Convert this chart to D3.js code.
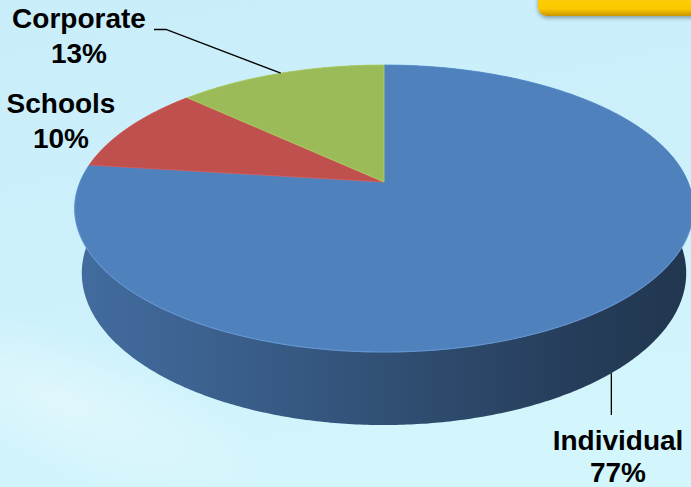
<!DOCTYPE html>
<html>
<head>
<meta charset="utf-8">
<script src="https://cdn.jsdelivr.net/npm/d3@7/dist/d3.min.js"></script>
<style>
  html, body { margin: 0; padding: 0; background: #ccf0fb; }
  svg { display: block; }
  text { font-family: "Liberation Sans", Arial, sans-serif; font-weight: bold; fill: #000; }
</style>
</head>
<body>
<svg id="chart" width="691" height="487"></svg>
<script>
// Customer segments and their share of the total (percent)
const categories = ["Individual", "Schools", "Corporate"];
const shares = [77, 10, 13];

// Office-style slice colours
const palette = ["#4f81bd", "#c0504d", "#9bbb59"];

const W = 691, H = 487;
const svg = d3.select("#chart");
const defs = svg.append("defs");

// ---- background ----
const bg = defs.append("linearGradient").attr("id", "bg")
  .attr("x1", 0).attr("y1", 0).attr("x2", 0.3).attr("y2", 1);
bg.append("stop").attr("offset", "0%").attr("stop-color", "#c9eefa");
bg.append("stop").attr("offset", "60%").attr("stop-color", "#ccf1fb");
bg.append("stop").attr("offset", "100%").attr("stop-color", "#d3f5fc");
svg.append("rect").attr("width", W).attr("height", H).attr("fill", "url(#bg)");

const glow = defs.append("radialGradient").attr("id", "glow")
  .attr("cx", 0.5).attr("cy", 0.5).attr("r", 0.5);
glow.append("stop").attr("offset", "0%").attr("stop-color", "#ffffff").attr("stop-opacity", 0.35);
glow.append("stop").attr("offset", "100%").attr("stop-color", "#ffffff").attr("stop-opacity", 0);
svg.append("ellipse").attr("cx", 60).attr("cy", 400).attr("rx", 220).attr("ry", 70)
  .attr("transform", "rotate(20 60 400)").attr("fill", "url(#glow)");

// ---- yellow tab in the top-right corner ----
const tabG = defs.append("linearGradient").attr("id", "tab").attr("x1", 0).attr("y1", 0).attr("x2", 0).attr("y2", 1);
tabG.append("stop").attr("offset", "0%").attr("stop-color", "#ffd51a");
tabG.append("stop").attr("offset", "80%").attr("stop-color", "#fcc800");
tabG.append("stop").attr("offset", "100%").attr("stop-color", "#c99500");
const shadow = defs.append("filter").attr("id", "tabShadow").attr("x", -0.2).attr("y", -0.5).attr("width", 1.4).attr("height", 2);
shadow.append("feGaussianBlur").attr("in", "SourceAlpha").attr("stdDeviation", 2).attr("result", "b");
shadow.append("feOffset").attr("in", "b").attr("dy", 2).attr("result", "o");
shadow.append("feComponentTransfer").attr("in", "o").attr("result", "s")
  .append("feFuncA").attr("type", "linear").attr("slope", 0.35);
const fm = shadow.append("feMerge");
fm.append("feMergeNode").attr("in", "s");
fm.append("feMergeNode").attr("in", "SourceGraphic");
svg.append("rect").attr("x", 538).attr("y", -20).attr("width", 180).attr("height", 36)
  .attr("rx", 9).attr("fill", "url(#tab)").attr("filter", "url(#tabShadow)");

// ---- perspective projection of a tilted disc ----
const cx = 384, cy = 182;          // screen position of the pie centre
const R = 0.2075, D = 1;           // radius and camera distance (world units)
const F = 1465;                    // focal length in pixels
const tilt = Math.asin(0.456);     // viewing elevation
const sinA = Math.sin(tilt), cosA = Math.cos(tilt);
const depth = 0.0499;              // thickness of the disc

// angle: clockwise from the far side (12 o'clock); h: 0 = top face, -depth = bottom
function project(angle, h, r = R) {
  const u = r * Math.sin(angle), v = r * Math.cos(angle);
  const Y = h * cosA + v * sinA;
  const Z = v * cosA - h * sinA;
  return [cx + F * u / (D + Z), cy - F * Y / (D + Z)];
}

const pie = d3.pie().sort(null).value(d => d)(shares);
const line = d3.line();
const arcPoints = (a0, a1, h) => {
  const n = Math.max(8, Math.ceil(Math.abs(a1 - a0) / 0.01));
  return d3.range(n + 1).map(k => project(a0 + (a1 - a0) * k / n, h));
};

// ---- outer wall of each slice, shaded left (lit) to right (dark) ----
pie.forEach((s, i) => {
  const base = d3.rgb(palette[i]);
  const shade = k => d3.rgb(base.r * k, base.g * k, base.b * k).formatHex();
  const g = defs.append("linearGradient").attr("id", "wall" + i)
    .attr("gradientUnits", "userSpaceOnUse")
    .attr("x1", 75).attr("y1", 0).attr("x2", 690).attr("y2", 0);
  [[0, 0.84], [0.2, 0.76], [0.5, 0.62], [0.8, 0.48], [1, 0.42]].forEach(([o, k]) =>
    g.append("stop").attr("offset", o).attr("stop-color", shade(k)));
});
const wallLayer = svg.append("g");
[1, 2, 0].forEach(i => {
  const s = pie[i];
  const pts = arcPoints(s.startAngle, s.endAngle, 0)
    .concat(arcPoints(s.endAngle, s.startAngle, -depth));
  wallLayer.append("path")
    .attr("d", line(pts) + "Z")
    .attr("fill", "url(#wall" + i + ")");
});

// ---- top faces ----
const faceLayer = svg.append("g");
pie.forEach((s, i) => {
  const pts = [project(0, 0, 0)].concat(arcPoints(s.startAngle, s.endAngle, 0));
  faceLayer.append("path")
    .attr("d", line(pts) + "Z")
    .attr("fill", palette[i])
    .attr("stroke", d3.rgb(palette[i]).brighter(0.3))
    .attr("stroke-width", 0.8).attr("stroke-linejoin", "round");
});

// soft highlight along the front rim of the top face
const rimPts = arcPoints(95 * Math.PI / 180, 265 * Math.PI / 180, 0);
faceLayer.append("path").attr("d", line(rimPts))
  .attr("fill", "none").attr("stroke", "#6d98cf").attr("stroke-opacity", 0.5).attr("stroke-width", 1.2);

// ---- labels ----
const labelLayer = svg.append("g");
const fs = 28;
function label(i, x, y, gap) {
  const t = labelLayer.append("text").attr("text-anchor", "middle").attr("font-size", fs);
  t.append("tspan").attr("x", x).attr("y", y).text(categories[i]);
  t.append("tspan").attr("x", x).attr("y", y + gap).text(shares[i] + "%");
}
label(2, 79, 27.5, 35.5);
label(1, 61, 113, 35);
label(0, 618, 450, 32);

// leader lines from the slice mid-angles
const mid = s => (s.startAngle + s.endAngle) / 2;
const pCorp = project(mid(pie[2]), 0);
svg.append("path")
  .attr("d", line([[154, 29.5], [166, 29.5], pCorp]))
  .attr("fill", "none").attr("stroke", "#000").attr("stroke-width", 1.3);
const pInd = project(mid(pie[0]), -depth);
svg.append("path")
  .attr("d", line([pInd, [pInd[0], 415]]))
  .attr("fill", "none").attr("stroke", "#000").attr("stroke-width", 1.3);
</script>
</body>
</html>
